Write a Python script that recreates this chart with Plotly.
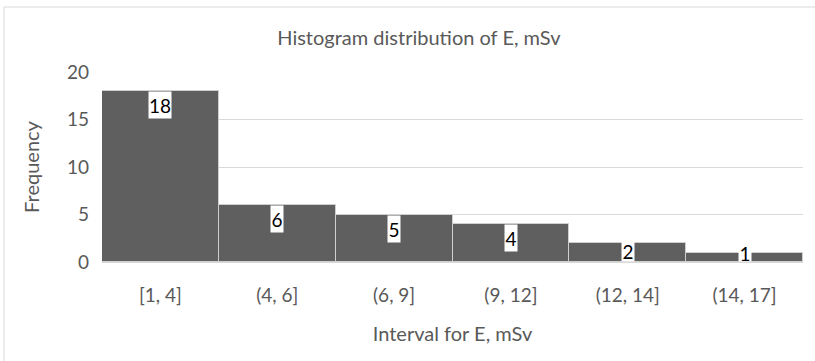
import plotly.graph_objects as go

# Histogram bins and counts
intervals = ["[1, 4]", "(4, 6]", "(6, 9]", "(9, 12]", "(12, 14]", "(14, 17]"]
frequency = [18, 6, 5, 4, 2, 1]
y_ticks = [0, 5, 10, 15, 20]

font_family = "Lato, Open Sans, sans-serif"
grey_text = "#595959"

plot_top, plot_bottom = 72, 262
y_max = 20
px_per_unit = (plot_bottom - plot_top) / y_max
label_box_h = 26

fig = go.Figure()
fig.add_trace(go.Bar(
    x=intervals,
    y=frequency,
    marker=dict(color="#5f5f5f", line=dict(color="#cfcfcf", width=1)),
    hoverinfo="x+y",
))

# value labels sitting inside the top of each bar on a white patch;
# short bars get a label resting on the axis instead
for cat, val in zip(intervals, frequency):
    txt = str(val)
    bar_px = val * px_per_unit
    if bar_px >= label_box_h:
        y_pos, anchor, box_h = val, "top", label_box_h
    else:
        y_pos, anchor, box_h = 0, "bottom", max(bar_px, 15)
    fig.add_annotation(
        x=cat, y=y_pos, xref="x", yref="y",
        text=txt, showarrow=False,
        yanchor=anchor, xanchor="center",
        width=10 * len(txt) + 2, height=box_h,
        bgcolor="white", borderpad=0,
        font=dict(family=font_family, size=19, color="black"),
    )

# outer chart frame
fig.add_shape(
    type="rect", xref="paper", yref="paper",
    x0=(4 - 102) / 701, x1=(830 - 102) / 701,
    y0=(262 - 375) / 190, y1=(262 - 7) / 190,
    line=dict(color="#d9d9d9", width=1), layer="below",
)

fig.update_layout(
    width=815, height=361,
    margin=dict(l=102, r=12, t=plot_top, b=361 - plot_bottom),
    paper_bgcolor="white", plot_bgcolor="white",
    bargap=0,
    showlegend=False,
    title=dict(
        text="Histogram distribution of E, mSv",
        x=0.514, xanchor="center", y=1 - 38 / 361, yanchor="middle",
        font=dict(family=font_family, size=20, color=grey_text),
    ),
    font=dict(family=font_family, size=19, color=grey_text),
)

fig.update_xaxes(
    showgrid=False, showline=True, linecolor="#d9d9d9", linewidth=1,
    ticks="", ticklabelstandoff=16,
    tickfont=dict(size=19, color=grey_text),
    title=dict(text="Interval for E, mSv", font=dict(size=20, color=grey_text), standoff=22),
)
fig.update_yaxes(
    range=[0, y_max], tickvals=y_ticks,
    showgrid=True, gridcolor="#d9d9d9", gridwidth=1,
    zeroline=False, showline=False, ticks="", ticklabelstandoff=12,
    tickfont=dict(size=19, color=grey_text),
    title=dict(text="Frequency", font=dict(size=20, color=grey_text), standoff=21),
)

fig.write_html("out.html")
